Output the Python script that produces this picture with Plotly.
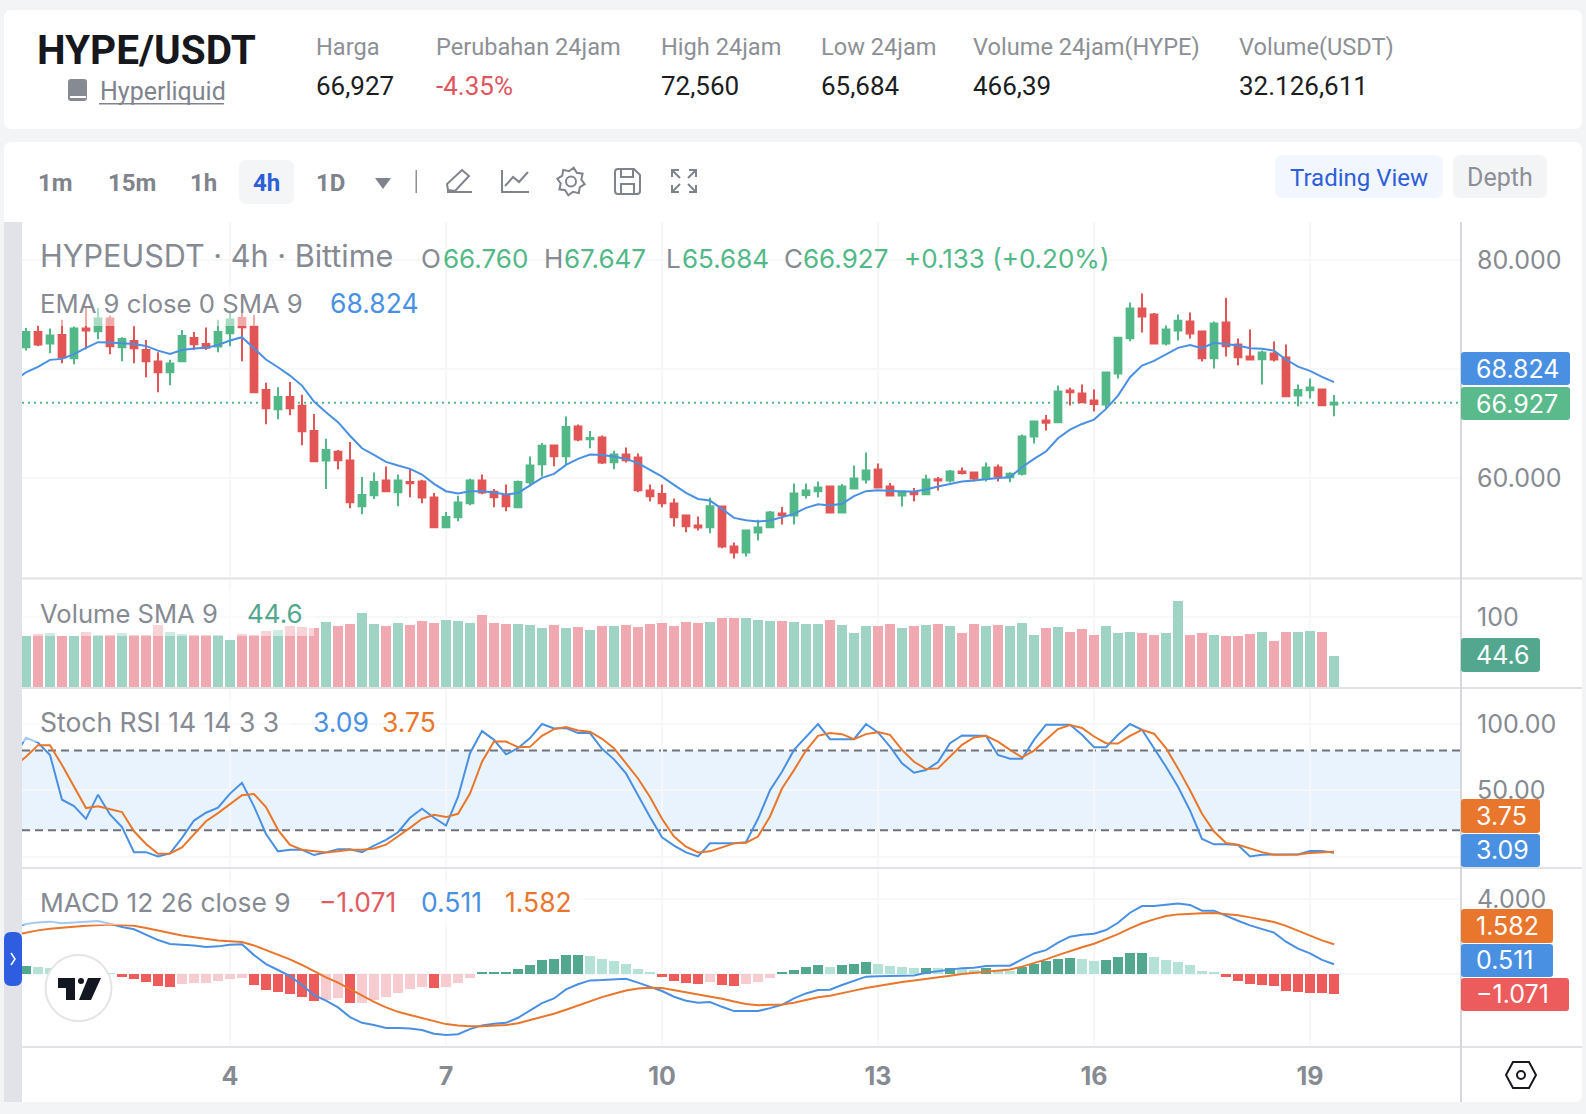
import math
import re
import plotly.graph_objects as go
from plotly.subplots import make_subplots

W, H = 1586, 1114

# ---- market data: 4h candles, one per slot ----
opens = [72.02,73.42,72.35,73.15,71.01,73.73,73.49,74.65,72.02,72.60,71.77,70.70,69.72,70.73,72.87,72.32,72.08,73.30,74.71,73.91,
         68.10,66.33,67.46,66.64,64.34,61.62,62.42,61.62,57.43,58.44,59.79,58.72,59.66,59.69,58.23,55.50,56.42,57.71,59.79,58.75,
         58.41,57.34,59.63,61.28,63.00,62.02,64.74,63.58,63.73,61.47,62.17,61.90,58.87,58.56,57.68,56.57,55.66,55.50,57.40,53.73,
         53.18,55.02,55.50,56.76,56.57,58.47,58.81,59.24,56.85,59.05,59.88,60.80,59.24,58.41,58.69,58.53,59.91,59.79,60.61,60.52,
         59.97,60.98,60.09,60.40,63.82,65.29,65.14,68.04,67.77,67.13,66.76,69.60,72.84,75.57,75.02,72.35,73.55,74.37,73.46,71.01,
         74.28,72.26,71.16,70.92,71.44,71.07,67.58,68.07,68.13,66.76]
highs = [73.79,73.98,73.73,74.53,73.91,75.69,75.63,74.92,72.94,73.94,72.69,71.56,70.86,73.61,73.42,73.82,74.53,75.20,75.20,75.01,
         68.75,68.35,68.84,67.65,65.90,63.61,62.60,63.33,60.12,60.52,61.07,60.34,60.92,59.85,58.65,56.91,58.38,59.94,60.34,59.02,
         59.42,59.79,61.99,63.24,63.06,65.66,64.92,64.34,63.91,62.51,62.81,62.26,59.42,59.42,58.13,56.57,56.48,58.20,57.45,54.10,
         55.20,56.18,57.00,57.37,59.51,59.51,59.69,59.33,59.48,61.16,62.35,61.35,59.57,58.87,59.11,60.31,60.12,60.76,60.98,60.61,
         61.44,61.25,60.55,64.01,65.20,65.81,68.50,68.29,68.59,68.13,69.69,72.94,76.12,76.94,75.17,74.01,75.02,75.20,73.55,74.37,
         76.57,72.81,73.64,71.71,72.54,72.26,68.59,69.14,68.20,67.647]
lows = [71.71,72.11,71.47,70.55,70.46,71.83,72.75,71.38,70.73,70.55,69.27,67.89,68.53,70.73,71.77,71.77,71.56,72.11,70.73,67.89,
        64.95,65.41,65.78,63.03,61.56,59.02,60.80,57.25,56.70,58.10,58.81,57.43,58.26,57.71,55.50,55.50,56.06,57.52,58.53,57.34,
        56.97,57.34,59.27,60.15,61.10,61.28,63.39,62.75,61.31,60.83,61.44,58.72,57.86,57.34,55.57,55.05,55.20,54.95,53.58,52.63,
        52.81,54.28,55.50,55.75,55.75,58.13,58.23,56.76,56.85,59.05,59.51,59.14,58.32,57.40,57.86,58.53,58.87,59.60,60.34,59.69,
        59.69,59.69,59.63,60.24,63.18,64.37,65.14,66.67,66.91,66.12,66.36,69.14,72.57,73.36,72.29,72.17,72.63,72.81,70.70,70.06,
        71.16,70.34,70.80,68.59,70.70,67.52,66.57,67.31,66.67,65.684]
closes = [73.42,72.26,73.09,71.07,73.73,73.55,74.65,72.11,72.78,71.93,70.73,69.72,70.52,73.06,72.29,71.96,73.42,74.56,73.85,67.89,
          66.42,67.46,66.42,64.31,61.56,62.60,61.65,57.80,58.47,59.66,58.81,59.79,59.54,58.23,55.50,56.45,57.77,59.79,58.69,58.26,
          57.43,59.66,61.16,62.97,62.02,64.71,63.55,63.70,61.44,62.17,61.65,58.90,58.35,57.71,56.42,55.60,55.47,57.43,53.73,53.18,
          55.20,55.47,56.85,56.61,58.59,58.87,59.14,56.85,59.24,59.97,60.70,59.14,58.41,58.78,58.53,59.88,59.79,60.61,60.49,59.97,
          60.98,60.15,60.40,63.82,65.20,65.08,67.95,67.89,66.97,66.82,69.69,72.90,75.57,74.83,72.35,73.64,74.46,73.27,71.01,74.19,
          72.11,71.10,70.89,71.53,70.89,67.52,68.10,68.32,66.70,66.927]

# line indicators carry one extra leading value that runs off the left edge
ema9 = [68.90,69.72,70.21,70.86,70.95,71.38,71.96,72.48,72.45,72.38,72.32,72.14,71.71,71.41,71.77,71.90,71.96,72.23,72.63,72.94,71.96,
        70.89,70.18,69.42,68.50,67.03,66.05,65.14,63.90,62.75,62.14,61.50,61.16,60.86,60.34,59.48,58.81,58.59,58.81,58.81,58.69,
        58.50,58.65,59.33,60.03,60.40,61.22,61.77,62.17,62.14,61.99,61.77,61.38,60.76,60.15,59.39,58.65,58.10,57.95,57.19,56.36,
        56.15,56.02,56.12,56.42,56.73,57.28,57.61,57.49,57.65,58.35,58.81,58.90,58.81,58.78,58.78,58.96,59.24,59.48,59.69,59.79,
        59.94,60.03,60.09,61.01,61.77,62.45,63.67,64.46,64.98,65.38,66.36,67.58,69.27,70.34,70.76,71.38,71.96,72.23,71.93,72.42,
        72.32,72.17,71.93,71.87,71.71,70.89,70.24,69.85,69.30,68.824]

volumes = [72.8,75.7,77.2,72.8,72.8,78.6,74.3,74.3,77.2,74.3,74.3,88.8,78.6,75.7,74.3,74.3,74.3,68.4,75.7,74.3,
           80.1,81.6,87.4,85.9,84.5,93.2,87.4,90.3,106.3,90.3,87.4,91.7,88.8,94.7,91.7,96.1,94.7,91.7,103.4,91.7,
           90.3,90.3,88.8,84.5,88.8,84.5,85.9,81.6,87.4,87.4,88.8,85.9,90.3,91.7,87.4,93.2,91.7,93.2,99.0,99.0,
           99.0,96.1,94.7,94.7,93.2,90.3,90.3,96.1,88.8,77.2,87.4,87.4,90.3,84.5,87.4,88.8,90.3,87.4,77.2,90.3,
           87.4,88.8,87.4,91.7,74.3,84.5,85.9,78.6,83.0,74.3,87.4,77.2,78.6,77.2,74.3,77.2,123.8,74.3,77.2,74.3,
           72.8,72.8,75.7,78.6,65.5,78.6,78.6,80.1,78.6,44.6]

stoch_k = [75.4,89.6,86.1,76.7,43.0,38.2,28.6,46.8,31.9,22.3,3.5,3.5,0.3,2.5,14.2,27.3,33.2,37.0,47.6,55.7,38.0,
           17.2,4.1,5.3,5.3,1.3,3.3,5.6,5.6,3.5,8.4,12.7,18.5,29.4,36.2,29.4,23.5,45.1,78.0,94.7,88.1,
           77.2,81.8,89.4,100.0,96.7,97.0,93.2,93.2,81.3,73.4,62.8,46.3,29.9,14.7,8.4,3.3,0.3,10.1,10.1,10.1,
           10.9,28.6,50.1,64.1,80.5,90.6,100.0,88.6,88.6,88.6,100.0,93.7,83.0,70.4,63.3,65.3,71.4,85.6,91.4,91.1,
           91.1,76.7,73.9,73.9,88.1,99.5,99.5,99.5,91.9,82.5,82.5,91.9,100.0,95.7,81.8,67.8,52.7,34.9,13.4,9.4,
           9.4,8.9,0.3,1.5,1.8,1.8,1.8,4.3,4.3,3.09]
stoch_d = [67.8,75.4,84.1,84.1,69.1,52.9,36.7,38.0,35.9,33.7,19.2,9.6,2.3,2.5,7.1,17.2,26.8,32.9,39.5,46.3,47.3,
           37.5,20.3,8.9,5.3,4.1,3.3,4.1,5.3,5.3,6.3,9.1,15.2,21.8,28.6,31.6,29.9,32.4,47.6,71.6,86.8,
           86.8,82.5,82.8,91.1,96.2,97.7,95.2,94.2,88.9,81.8,70.4,59.0,45.1,28.6,15.2,7.6,3.3,4.1,7.1,10.1,
           10.6,15.2,30.4,51.4,65.3,80.0,91.1,93.2,92.4,88.6,92.4,93.9,91.9,80.5,71.6,66.1,66.6,75.4,84.3,89.9,
           91.1,86.8,80.5,74.9,80.0,88.1,96.2,99.2,97.0,90.6,85.6,85.3,91.1,95.7,92.7,81.8,66.6,50.1,32.4,19.0,
           10.4,9.1,6.3,3.5,1.5,1.5,1.8,2.8,3.3,3.75]

macd_line = [2.53,2.67,2.76,2.80,2.71,2.76,2.78,2.83,2.69,2.51,2.39,2.12,1.81,1.60,1.58,1.52,1.44,1.47,1.56,1.58,1.00,
             .52,.20,-.13,-.61,-1.15,-1.45,-1.81,-2.33,-2.64,-2.76,-2.92,-2.92,-2.94,-3.03,-3.23,-3.30,-3.25,-2.98,-2.78,-2.69,
             -2.64,-2.37,-1.99,-1.58,-1.33,-.84,-.57,-.36,-.34,-.29,-.27,-.48,-.70,-.93,-1.24,-1.45,-1.56,-1.52,-1.78,-2.01,
             -2.01,-2.01,-1.85,-1.67,-1.33,-1.06,-.88,-.86,-.61,-.38,-.16,-.13,-.13,-.13,-.09,.05,.14,.23,.30,.32,
             .41,.43,.43,.77,1.09,1.27,1.67,1.99,2.10,2.15,2.35,2.74,3.28,3.64,3.64,3.71,3.77,3.70,3.39,3.39,
             3.10,2.85,2.60,2.42,2.21,1.72,1.35,1.09,.74,.511]
macd_signal = [2.08,2.22,2.33,2.42,2.49,2.53,2.58,2.62,2.64,2.62,2.58,2.46,2.31,2.17,2.05,1.96,1.85,1.78,1.74,1.70,1.52,
               1.27,1.02,.77,.47,.13,-.20,-.48,-.83,-1.18,-1.51,-1.81,-2.05,-2.22,-2.39,-2.55,-2.71,-2.78,-2.83,-2.82,-2.80,
               -2.76,-2.66,-2.49,-2.33,-2.15,-1.94,-1.70,-1.47,-1.26,-1.08,-.90,-.79,-.75,-.77,-.88,-1.00,-1.09,-1.20,-1.35,-1.49,
               -1.63,-1.69,-1.69,-1.65,-1.56,-1.42,-1.27,-1.18,-1.06,-.91,-.77,-.65,-.54,-.45,-.36,-.29,-.20,-.11,-.02,.05,
               .11,.16,.23,.38,.56,.77,1.00,1.22,1.42,1.61,1.85,2.13,2.44,2.71,2.92,3.10,3.19,3.23,3.25,3.26,
               3.21,3.14,3.03,2.91,2.78,2.57,2.31,2.06,1.79,1.582]
macd_hist = [.41,.36,.29,.20,.14,.10,.05,.02,-.18,-.29,-.45,-.66,-.72,-.57,-.50,-.49,-.39,-.29,-.23,-.61,
             -.88,-.99,-1.09,-1.26,-1.47,-1.42,-1.31,-1.58,-1.57,-1.42,-1.26,-1.04,-.83,-.72,-.77,-.72,-.50,-.23,.04,.09,
             .10,.25,.47,.74,.79,1.00,1.01,.95,.79,.68,.52,.25,.04,-.18,-.39,-.50,-.56,-.45,-.61,-.66,
             -.56,-.45,-.23,.04,.20,.36,.47,.36,.47,.52,.63,.52,.41,.36,.31,.32,.31,.32,.25,.20,
             .31,.14,.13,.36,.52,.68,.79,.84,.79,.68,.74,.90,1.11,1.12,.90,.74,.63,.47,.14,.09,
             -.18,-.39,-.56,-.61,-.66,-.93,-1.00,-1.04,-1.06,-1.071]

day_ticks = [17, 35, 53, 71, 89, 107]
day_labels = ["4", "7", "10", "13", "16", "19"]
last_price = closes[-1]

# palette
PAGE = "#f3f4f6"
GREEN, RED = "#53b887", "#e25555"
BLUE, ORANGE = "#4a90e2", "#e9762d"
VOL_UP, VOL_DOWN = "#9fd4c4", "#f0a8b1"
HIST_UP, HIST_UP_SOFT = "#52a88f", "#b5e2d6"
HIST_DOWN, HIST_DOWN_SOFT = "#ee5b5b", "#f6ccd1"
GREY = "#868a92"
GRID = "#f6f7f8"
EDGE = "#e0e2e6"
FONT = "Inter"
HEAD = "Roboto"

slots = list(range(len(closes)))
line_slots = [-1] + slots


def fx(x):
    return x / W


def fy(y):
    return 1 - y / H


def px_path(d):
    """Convert an SVG-like path in page pixels to paper coordinates."""
    out = []
    for cmd, args in re.findall(r"([MLQCZ])([^MLQCZ]*)", d):
        nums = [float(n) for n in re.findall(r"-?\d+\.?\d*", args)]
        pairs = [f"{fx(nums[k]):.5f},{fy(nums[k + 1]):.5f}" for k in range(0, len(nums), 2)]
        out.append(cmd + " ".join(pairs))
    return " ".join(out)


fig = make_subplots(rows=4, cols=1, shared_xaxes=True, vertical_spacing=0.01)
shapes, notes = [], []


def rect(x0, y0, x1, y1, fill, r=0, layer="above", line=None, lw=0, opacity=1):
    if r:
        d = (f"M{x0 + r} {y0} L{x1 - r} {y0} Q{x1} {y0} {x1} {y0 + r} L{x1} {y1 - r} Q{x1} {y1} {x1 - r} {y1} "
             f"L{x0 + r} {y1} Q{x0} {y1} {x0} {y1 - r} L{x0} {y0 + r} Q{x0} {y0} {x0 + r} {y0} Z")
        shapes.append(dict(type="path", path=px_path(d), xref="paper", yref="paper", fillcolor=fill,
                           line=dict(width=lw, color=line or fill), layer=layer, opacity=opacity))
    else:
        shapes.append(dict(type="rect", xref="paper", yref="paper", x0=fx(x0), x1=fx(x1), y0=fy(y0), y1=fy(y1),
                           fillcolor=fill, line=dict(width=lw, color=line or fill), layer=layer, opacity=opacity))


def stroke(d, color, lw=2, fill="rgba(0,0,0,0)", layer="above"):
    shapes.append(dict(type="path", path=px_path(d), xref="paper", yref="paper", fillcolor=fill,
                       line=dict(width=lw, color=color), layer=layer))


def circle(cx, cy, r, color, lw=2, fill="rgba(0,0,0,0)"):
    shapes.append(dict(type="circle", xref="paper", yref="paper", x0=fx(cx - r), x1=fx(cx + r),
                       y0=fy(cy + r), y1=fy(cy - r), fillcolor=fill, line=dict(width=lw, color=color), layer="above"))


def text(x, y, s, size, color, anchor="left", family=FONT, weight=400):
    notes.append(dict(x=fx(x), y=fy(y), xref="paper", yref="paper", text=s, showarrow=False, xanchor=anchor,
                      yanchor="middle", borderpad=0, font=dict(family=family, size=size, color=color, weight=weight)))


# ---- panes ----
fig.add_trace(go.Scatter(x=line_slots, y=ema9, mode="lines", line=dict(color=BLUE, width=2), hoverinfo="skip"), row=1, col=1)
fig.add_trace(go.Candlestick(x=slots, open=opens, high=highs, low=lows, close=closes, whiskerwidth=0,
                             increasing=dict(line=dict(color=GREEN, width=2), fillcolor=GREEN),
                             decreasing=dict(line=dict(color=RED, width=2), fillcolor=RED)), row=1, col=1)
fig.add_trace(go.Bar(x=slots, y=volumes, width=0.78, marker=dict(color=[VOL_UP if c >= o else VOL_DOWN for o, c in zip(opens, closes)],
                                                                line_width=0)), row=2, col=1)
fig.add_trace(go.Scatter(x=line_slots, y=stoch_k, mode="lines", line=dict(color=BLUE, width=2)), row=3, col=1)
fig.add_trace(go.Scatter(x=line_slots, y=stoch_d, mode="lines", line=dict(color=ORANGE, width=2)), row=3, col=1)

hist_colors = []
for i, v in enumerate(macd_hist):
    prev = macd_hist[i - 1] if i else v - 1
    if v >= 0:
        hist_colors.append(HIST_UP if v > prev else HIST_UP_SOFT)
    else:
        hist_colors.append(HIST_DOWN if v < prev else HIST_DOWN_SOFT)
fig.add_trace(go.Bar(x=slots, y=macd_hist, width=0.82, marker=dict(color=hist_colors, line_width=0)), row=4, col=1)
fig.add_trace(go.Scatter(x=line_slots, y=macd_line, mode="lines", line=dict(color=BLUE, width=2)), row=4, col=1)
fig.add_trace(go.Scatter(x=line_slots, y=macd_signal, mode="lines", line=dict(color=ORANGE, width=2)), row=4, col=1)

# ---- page furniture drawn behind the plots ----
rect(4, 10, 1582, 129, "white", r=8, layer="below")
rect(4, 142, 1582, 1102, "white", r=8, layer="below")
rect(4, 222, 22, 1102, "#e1e3e8", layer="below")
rect(239, 160, 294, 204, "#f4f5f7", r=8, layer="below")
rect(1275, 155, 1443, 198, "#f2f6fe", r=8, layer="below")
rect(1453, 155, 1547, 198, "#f3f4f6", r=8, layer="below")

# dotted last-price line and the stochastic band
shapes.append(dict(type="line", xref="paper", yref="y", x0=fx(22), x1=fx(1461), y0=last_price, y1=last_price,
                   line=dict(color=GREEN, width=2, dash="2px,4px"), layer="below"))
shapes.append(dict(type="rect", xref="paper", yref="y3", x0=fx(22), x1=fx(1461), y0=20, y1=80,
                   fillcolor="#e9f3fd", line=dict(width=0), layer="below"))
for level in (20, 80):
    shapes.append(dict(type="line", xref="paper", yref="y3", x0=fx(22), x1=fx(1461), y0=level, y1=level,
                       line=dict(color="#6f727c", width=2, dash="8px,5px"), layer="below"))

# pale backing behind the legend rows
rect(22, 286, 435, 326, "white", opacity=0.5)
rect(22, 590, 314, 636, "white", opacity=0.5)
rect(22, 700, 290, 742, "white", opacity=0.5)
rect(22, 882, 585, 925, "white", opacity=0.5)

# pane separators and the price-scale edge
for y in (578.5, 688, 868, 1047):
    rect(22, y - 1, 1582, y + 1, EDGE)
rect(1460, 222, 1462, 1102, "#d5d7db")

# value tags on the scale
for x1, y0, y1, fill, label, cy in [
    (1570, 352, 385, BLUE, "68.824", 369),
    (1570, 387, 420, "#5bba8c", "66.927", 403.5),
    (1540, 638, 672, "#53a78f", "44.6", 655),
    (1540, 799, 833, ORANGE, "3.75", 816),
    (1540, 834, 867, BLUE, "3.09", 850),
    (1553, 909, 943, ORANGE, "1.582", 926),
    (1553, 944, 977, BLUE, "0.511", 960),
    (1569, 978, 1011, "#ec5c5c", "−1.071", 994),
]:
    rect(1461, y0, x1, y1, fill, r=3)
    text(1474.5, cy, label, 25, "white")

# collapse handle, logo badge and corner icon
rect(4, 932, 22, 986, "#2f5de0", r=7)
stroke("M11 953 L15 959 L11 965", "white", 1.5)
circle(78.5, 988, 33, "#e4e5e6", 2, "white")
stroke("M58 978 L75 978 L75 1000 L66 1000 L66 988 L58 988 Z", "#131722", 0, "#131722")
stroke("M88 978 L101 978 L91 1000 L79 1000 Z", "#131722", 0, "#131722")
circle(81, 981, 3, "#131722", 0, "#131722")
stroke("M1513 1062 L1529 1062 L1536 1075 L1529 1088 L1513 1088 L1506 1075 Z", "#16181d", 2)
circle(1521, 1075, 4, "#16181d", 2)

# toolbar icons
ICON = "#7f848c"
rect(415.5, 170, 417, 193, "#8d9197")
stroke("M448 190 L447 184 L462 170 L469 176 L455 191 Z M447 192 L472 192", ICON)
stroke("M502 170 L502 192 L529 192 M505 186 L513 177 L519 182 L528 172", ICON)
teeth = []
for k in range(16):
    a = 2 * math.pi * k / 16 + math.pi / 16
    r = 14 if k % 2 == 0 else 10.5
    teeth.append(f"{'M' if k == 0 else 'L'}{571 + r * math.cos(a):.1f} {181.5 + r * math.sin(a):.1f}")
stroke(" ".join(teeth) + " Z", ICON)
circle(571, 181.5, 5, ICON)
stroke("M618 169 L634 169 L640 175 L640 191 Q640 194 637 194 L618 194 Q615 194 615 191 L615 172 Q615 169 618 169 Z "
       "M621 170 L621 177 L633 177 L633 170 M621 194 L621 184 L634 184 L634 194", ICON)
stroke("M672 177 L672 170 L679 170 M672 170 L680 178 M689 170 L696 170 L696 177 M696 170 L688 178 "
       "M672 185 L672 192 L679 192 M672 192 L680 184 M689 192 L696 192 L696 185 M696 192 L688 184", ICON)
stroke("M375 178 L391 178 L383 189 Z", ICON, 0, ICON)

# book glyph beside the project link
rect(68, 79, 87, 101, "#868b93", r=3)
rect(70, 96, 86, 98, "white")
rect(99, 103, 224, 104.5, "#7f848c")

# ---- header card ----
text(36, 50, "HYPE/USDT", 40.5, "#16181d", family=HEAD, weight=700)
text(99, 92, "Hyperliquid", 25, "#7f848c", family=HEAD)
for x, label, value, color in [
    (315, "Harga", "66,927", "#1b1d22"),
    (435, "Perubahan 24jam", "-4.35%", "#e0555d"),
    (660, "High 24jam", "72,560", "#1b1d22"),
    (820, "Low 24jam", "65,684", "#1b1d22"),
    (972, "Volume 24jam(HYPE)", "466,39", "#1b1d22"),
    (1238, "Volume(USDT)", "32.126,611", "#1b1d22"),
]:
    text(x, 47, label, 23.6, "#8c9096", family=HEAD)
    text(x, 86, value, 26, color, family=HEAD)

# ---- toolbar ----
for x, label, color in [(37, "1m", ICON), (107, "15m", ICON), (189, "1h", ICON), (252, "4h", "#2d5fd8"), (315, "1D", ICON)]:
    text(x, 183, label, 24, color, weight=700, family=HEAD)
text(1359, 178, "Trading View", 24, "#2d5fd8", anchor="center", family=HEAD)
text(1500, 178, "Depth", 25, "#8c9096", anchor="center", family=HEAD)

# ---- legend rows ----
text(39, 255, "HYPEUSDT · 4h · Bittime", 30.6, GREY)
for x, s, color in [(420, "O", GREY), (442, "66.760", GREEN), (543, "H", GREY), (563, "67.647", GREEN), (665, "L", GREY),
                    (681, "65.684", GREEN), (783, "C", GREY), (802, "66.927", GREEN), (903, "+0.133 (+0.20%)", GREEN)]:
    text(x, 258, s, 26, color)
text(39, 303, "EMA 9 close 0 SMA 9", 25.7, GREY)
text(329, 303, "68.824", 26.5, BLUE)
text(39, 613, "Volume SMA 9", 25.6, GREY)
text(246, 613, "44.6", 26, "#53a78f")
text(39, 722, "Stoch RSI 14 14 3 3", 26.5, GREY)
text(312, 722, "3.09", 26.5, BLUE)
text(381, 722, "3.75", 26.5, ORANGE)
text(39, 902, "MACD 12 26 close 9", 26.3, GREY)
text(318, 902, "−1.071", 26.5, "#e25b63")
text(420, 902, "0.511", 26.5, BLUE)
text(504, 902, "1.582", 26.5, ORANGE)

# ---- axes ----
x_axis = dict(range=[-0.333, 119.583], domain=[fx(22), fx(1461)], tickmode="array", tickvals=day_ticks, ticktext=day_labels,
              showgrid=True, gridcolor=GRID, gridwidth=2, zeroline=False, showline=False, ticks="", showticklabels=False,
              rangeslider=dict(visible=False))


def y_axis(y0, y1, lo, hi, vals, labels):
    return dict(domain=[fy(y1), fy(y0)], range=[lo, hi], side="right", tickmode="array", tickvals=vals, ticktext=labels,
                tickfont=dict(family=FONT, size=25, color=GREY), ticks="", showline=False, zeroline=False,
                showgrid=True, gridcolor=GRID, gridwidth=2, ticklabelstandoff=15)


fig.update_layout(
    width=W, height=H, autosize=False, margin=dict(l=0, r=0, t=0, b=0),
    paper_bgcolor=PAGE, plot_bgcolor="rgba(0,0,0,0)", showlegend=False, bargap=0, boxgap=0.2,
    shapes=shapes, annotations=notes, hovermode=False,
    xaxis=dict(x_axis), xaxis2=dict(x_axis, matches="x"), xaxis3=dict(x_axis, matches="x"),
    xaxis4=dict(x_axis, matches="x", showticklabels=True, ticklabelstandoff=13,
                tickfont=dict(family=FONT, size=25, color=GREY, weight=700)),
    yaxis=y_axis(222, 577.5, 50.89, 83.51, [60, 70, 80], ["60.000", "", "80.000"]),
    yaxis2=y_axis(579.5, 687, -1.46, 155.0, [100], ["100"]),
    yaxis3=y_axis(689, 867, -7.7, 126.4, [0, 50, 100], ["", "50.00", "100.00"]),
    yaxis4=y_axis(869, 1046, -3.887, 5.63, [0, 4], ["", "4.000"]),
)

fig.write_html("out.html")
